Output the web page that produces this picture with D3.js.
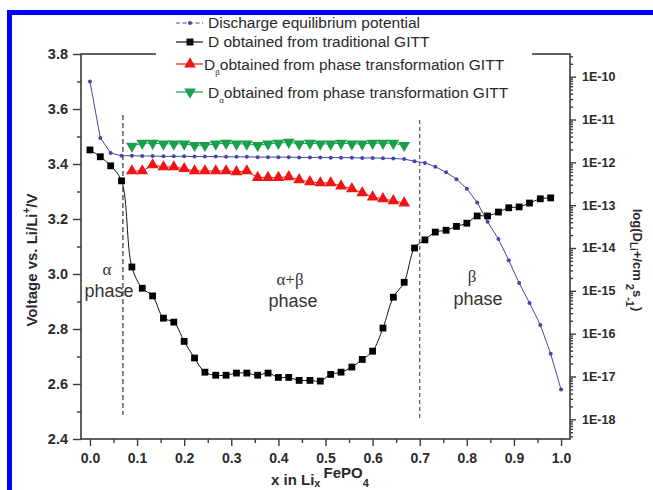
<!DOCTYPE html>
<html><head><meta charset="utf-8">
<script src="https://cdn.jsdelivr.net/npm/d3@7"></script>
<style>body{margin:0;background:#fff}svg{display:block}</style>
</head><body>
<svg id="c" width="653" height="490"></svg>
<script>
// ---------- data ----------
const xValues = [0,0.022,0.044,0.067,0.089,0.111,0.133,0.156,0.178,0.2,0.222,0.244,0.267,0.289,0.311,0.333,0.356,0.378,0.4,0.422,0.444,0.467,0.489,0.511,0.533,0.556,0.578,0.6,0.622,0.644,0.667,0.689,0.711,0.733,0.756,0.778,0.8,0.822,0.844,0.867,0.889,0.911,0.933,0.956,0.978,1.0];
const voltage = [3.70,3.495,3.44,3.43,3.43,3.429,3.429,3.428,3.428,3.428,3.427,3.427,3.427,3.426,3.426,3.426,3.425,3.425,3.425,3.425,3.424,3.424,3.424,3.423,3.423,3.423,3.422,3.422,3.421,3.42,3.418,3.41,3.404,3.39,3.37,3.345,3.31,3.26,3.19,3.127,3.05,2.967,2.895,2.815,2.71,2.58];
const dTraditional = [1.95e-12,1.35e-12,8.3e-13,3.7e-13,3.6e-15,1.15e-15,7.6e-16,2.3e-16,1.86e-16,6.6e-17,2.7e-17,1.26e-17,1.07e-17,1.07e-17,1.2e-17,1.2e-17,1.07e-17,1.2e-17,9.5e-18,9.5e-18,8.1e-18,8.1e-18,7.8e-18,1.12e-17,1.26e-17,1.66e-17,2.5e-17,3.9e-17,1.35e-16,7.1e-16,1.58e-15,1.0e-14,1.55e-14,2.35e-14,2.6e-14,3.2e-14,3.8e-14,5.6e-14,5.6e-14,6.9e-14,8.7e-14,9.1e-14,1.12e-13,1.41e-13,1.48e-13];
const xPhase = [0.089,0.111,0.133,0.156,0.178,0.2,0.222,0.244,0.267,0.289,0.311,0.333,0.356,0.378,0.4,0.422,0.444,0.467,0.489,0.511,0.533,0.556,0.578,0.6,0.622,0.644,0.667];
const dBeta = [6.3e-13,6.3e-13,8.7e-13,7.8e-13,7.8e-13,7.1e-13,6.3e-13,6.3e-13,6.3e-13,6.3e-13,6.0e-13,6.3e-13,4.4e-13,4.4e-13,4.4e-13,4.6e-13,3.9e-13,3.5e-13,3.3e-13,3.3e-13,2.8e-13,2.4e-13,1.95e-13,1.55e-13,1.41e-13,1.26e-13,1.12e-13];
const dAlpha = [2.4e-12,2.8e-12,2.8e-12,2.7e-12,2.7e-12,2.7e-12,2.5e-12,2.5e-12,2.7e-12,2.8e-12,2.7e-12,2.7e-12,2.5e-12,2.7e-12,2.8e-12,2.95e-12,2.7e-12,2.8e-12,2.7e-12,2.7e-12,2.8e-12,2.7e-12,2.7e-12,2.8e-12,2.8e-12,2.8e-12,2.5e-12];
const xTicks = [0,0.1,0.2,0.3,0.4,0.5,0.6,0.7,0.8,0.9,1.0];
const vTicks = [2.4,2.6,2.8,3.0,3.2,3.4,3.6,3.8];
const dTicks = [1e-10,1e-11,1e-12,1e-13,1e-14,1e-15,1e-16,1e-17,1e-18];
const phaseBounds = [0.07,0.7];
const legendLabels = ["Discharge equilibrium potential","D obtained from traditional GITT","obtained from phase transformation GITT","obtained from phase transformation GITT"];

// ---------- layout ----------
const svg = d3.select("#c");
const L=81,R=570,T=54,B=439;
const x = d3.scaleLinear([-0.019,1.019],[L,R]);
const yV = d3.scaleLinear([2.4,3.8],[B,T]);
const yD = d3.scaleLog([Math.pow(10,-18.46),Math.pow(10,-9.47)],[B,T]);
const axisCol="#3a3a3a", txtCol="#2a2a2a";
const FONT="Liberation Sans, Arial, sans-serif";
const blue="#4646a8", red="#f01414", green="#18a04c";

// blue border
svg.append("rect").attr("x",7).attr("y",10).attr("width",646).attr("height",5).attr("fill","#0000ff");
svg.append("rect").attr("x",7).attr("y",10).attr("width",5).attr("height",480).attr("fill","#0000ff");

// frame
svg.append("rect").attr("x",L).attr("y",T).attr("width",R-L).attr("height",B-T)
  .attr("fill","none").attr("stroke",axisCol).attr("stroke-width",1.6);

// axes
function styleAxis(g){
  g.select(".domain").remove();
  g.selectAll(".tick line").attr("stroke",axisCol).attr("stroke-width",1.4);
  g.selectAll("text").attr("fill",txtCol).attr("font-family",FONT).attr("font-weight","bold");
}
svg.append("g").attr("transform",`translate(${L},0)`)
  .call(d3.axisLeft(yV).tickValues(vTicks).tickSize(8).tickPadding(5).tickFormat(d3.format(".1f")))
  .call(styleAxis).selectAll("text").attr("font-size",14.5);
svg.append("g").attr("transform",`translate(${L},0)`)
  .call(d3.axisLeft(yV).tickValues(d3.range(2.5,3.8,0.2)).tickSize(4).tickFormat(""))
  .call(styleAxis);
svg.append("g").attr("transform",`translate(0,${B})`)
  .call(d3.axisBottom(x).tickValues(xTicks).tickSize(7).tickPadding(7).tickFormat(d3.format(".1f")))
  .call(styleAxis).selectAll("text").attr("font-size",14);
svg.append("g").attr("transform",`translate(0,${B})`)
  .call(d3.axisBottom(x).tickValues(d3.range(0.05,1.0,0.1)).tickSize(4).tickFormat(""))
  .call(styleAxis);
svg.append("g").attr("transform",`translate(${R},0)`)
  .call(d3.axisRight(yD).tickValues(dTicks).tickSize(6).tickPadding(6).tickFormat(d=>"1E"+Math.round(Math.log10(d))))
  .call(styleAxis).selectAll("text").attr("font-size",12.5);
const minorD=[];
for(let n=-19;n<=-10;n++) for(let k=2;k<=9;k++){const v=k*Math.pow(10,n); if(v>yD.domain()[0]&&v<yD.domain()[1]) minorD.push(v);}
svg.append("g").attr("transform",`translate(${R},0)`)
  .call(d3.axisRight(yD).tickValues(minorD).tickSize(3).tickFormat(""))
  .call(styleAxis);

// dashed phase boundaries
svg.append("line").attr("x1",x(phaseBounds[0])).attr("x2",x(phaseBounds[0])).attr("y1",115).attr("y2",415)
  .attr("stroke","#444").attr("stroke-width",1.3).attr("stroke-dasharray","5,3");
svg.append("line").attr("x1",x(phaseBounds[1])).attr("x2",x(phaseBounds[1])).attr("y1",120).attr("y2",418)
  .attr("stroke","#444").attr("stroke-width",1.1).attr("stroke-dasharray","4,3");

// series
const vData = xValues.map((d,i)=>[d,voltage[i]]);
const tData = dTraditional.map((d,i)=>[xValues[i],d]);
const bData = dBeta.map((d,i)=>[xPhase[i],d]);
const aData = dAlpha.map((d,i)=>[xPhase[i],d]);

const lineD = d3.line().x(d=>x(d[0])).y(d=>yD(d[1]));
svg.append("path").datum(tData).attr("d",lineD.curve(d3.curveCatmullRom.alpha(0.5))).attr("fill","none").attr("stroke","#111").attr("stroke-width",1);
svg.append("path").datum(bData).attr("d",d3.line().x(d=>x(d[0])).y(d=>yD(d[1]))).attr("fill","none").attr("stroke",red).attr("stroke-width",1);
svg.append("path").datum(aData).attr("d",d3.line().x(d=>x(d[0])).y(d=>yD(d[1]))).attr("fill","none").attr("stroke",green).attr("stroke-width",1);
svg.append("path").datum(vData).attr("d",d3.line().x(d=>x(d[0])).y(d=>yV(d[1]))).attr("fill","none").attr("stroke",blue).attr("stroke-width",1);

const tri = d3.symbol().type(d3.symbolTriangle).size(60)();
svg.append("g").selectAll("path").data(aData).join("path").attr("d",tri)
  .attr("transform",d=>`translate(${x(d[0])},${yD(d[1])}) rotate(180)`).attr("fill",green);
svg.append("g").selectAll("path").data(bData).join("path").attr("d",tri)
  .attr("transform",d=>`translate(${x(d[0])},${yD(d[1])})`).attr("fill",red);
svg.append("g").selectAll("rect").data(tData).join("rect")
  .attr("x",d=>x(d[0])-3.4).attr("y",d=>yD(d[1])-3.4).attr("width",6.8).attr("height",6.8).attr("fill","#000");
svg.append("g").selectAll("circle").data(vData).join("circle")
  .attr("cx",d=>x(d[0])).attr("cy",d=>yV(d[1])).attr("r",2).attr("fill",blue);

// legend
svg.append("rect").attr("x",156).attr("y",16).attr("width",376).attr("height",88).attr("fill","#fff");
const lg = svg.append("g").attr("font-family",FONT).attr("font-size",15.5).attr("fill",txtCol);
const rows=[23,42,64,92];
function sample(y,col,mark,dash){
  lg.append("line").attr("x1",176).attr("x2",203).attr("y1",y).attr("y2",y).attr("stroke",col).attr("stroke-width",1.2).attr("stroke-dasharray",dash||null);
  if(mark==="c") lg.append("circle").attr("cx",190).attr("cy",y).attr("r",2).attr("fill",col);
  if(mark==="s") lg.append("rect").attr("x",186.5).attr("y",y-3.5).attr("width",7).attr("height",7).attr("fill",col);
  if(mark==="u") lg.append("path").attr("d",tri).attr("transform",`translate(190,${y})`).attr("fill",col);
  if(mark==="d") lg.append("path").attr("d",tri).attr("transform",`translate(190,${y}) rotate(180)`).attr("fill",col);
}
sample(rows[0],blue,"c","4,2.5");
sample(rows[1],"#111","s");
sample(rows[2],red,"u");
sample(rows[3],green,"d");
lg.append("text").attr("x",208).attr("y",rows[0]+5).text(legendLabels[0]);
lg.append("text").attr("x",208).attr("y",rows[1]+5).text(legendLabels[1]);
const t3=lg.append("text").attr("x",204).attr("y",rows[2]+6);
t3.append("tspan").text("D");
t3.append("tspan").attr("font-size",8).attr("dy",5).text("β");
t3.append("tspan").attr("dy",-5).text(legendLabels[2]);
const t4=lg.append("text").attr("x",208).attr("y",rows[3]+6);
t4.append("tspan").text("D");
t4.append("tspan").attr("font-size",8).attr("dy",5).text("α");
t4.append("tspan").attr("dy",-5).text(legendLabels[3]);

// phase labels
const ph = svg.append("g").attr("fill","#333").attr("text-anchor","middle");
ph.append("text").attr("x",107).attr("y",275).attr("font-family","Liberation Serif, serif").attr("font-size",17).text("α");
ph.append("text").attr("x",109).attr("y",297).attr("font-family",FONT).attr("font-size",18).text("phase");
ph.append("text").attr("x",290).attr("y",285).attr("font-family","Liberation Serif, serif").attr("font-size",17).text("α+β");
ph.append("text").attr("x",293).attr("y",307).attr("font-family",FONT).attr("font-size",18).text("phase");
ph.append("text").attr("x",472).attr("y",282).attr("font-family","Liberation Serif, serif").attr("font-size",17).text("β");
ph.append("text").attr("x",478).attr("y",305).attr("font-family",FONT).attr("font-size",18).text("phase");

// axis titles
const yt = svg.append("text").attr("transform","translate(37,260) rotate(-90)").attr("text-anchor","middle")
  .attr("font-family",FONT).attr("font-weight","bold").attr("font-size",15).attr("fill",txtCol);
yt.append("tspan").text("Voltage vs. Li/Li");
yt.append("tspan").attr("font-size",10).attr("dy",-7).text("+");
yt.append("tspan").attr("dy",7).text("/V");

const xt = svg.append("text").attr("x",271).attr("y",485).attr("font-family",FONT).attr("font-weight","bold").attr("font-size",15).attr("fill",txtCol);
xt.append("tspan").text("x in Li");
xt.append("tspan").attr("font-size",11).attr("dy",2).text("x");
xt.append("tspan").attr("dx",3).attr("dy",-9).text("FePO");
xt.append("tspan").attr("font-size",11).attr("dy",9).text("4");

const rt = svg.append("text").attr("transform","translate(633,260) rotate(90)").attr("text-anchor","middle")
  .attr("font-family",FONT).attr("font-weight","bold").attr("font-size",13).attr("fill",txtCol);
rt.append("tspan").text("log(D");
rt.append("tspan").attr("font-size",10).attr("dy",3).text("Li");
rt.append("tspan").attr("dy",-3).text("+/cm");
rt.append("tspan").attr("font-size",11).attr("dy",7).text(" 2");
rt.append("tspan").attr("dy",-7).text("s");
rt.append("tspan").attr("font-size",11).attr("dy",7).text("-1");
rt.append("tspan").attr("dy",-7).text(")");
</script>
</body></html>
